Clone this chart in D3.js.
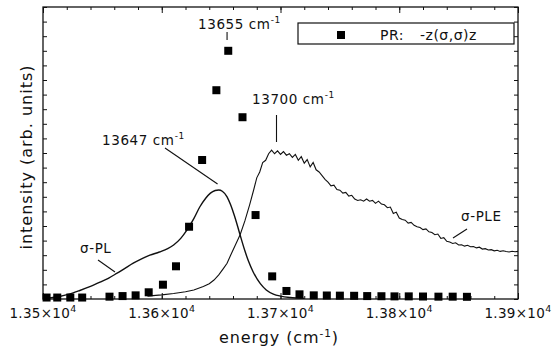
<!DOCTYPE html>
<html>
<head>
<meta charset="utf-8">
<script src="https://cdn.jsdelivr.net/npm/d3@7"></script>
<style>
  html, body { margin: 0; padding: 0; background: #fff; }
  svg { display: block; }
  text { font-family: "DejaVu Sans", sans-serif; fill: #111; }
</style>
</head>
<body>
<svg id="chart" width="560" height="349"></svg>
<script>
// ---------- data ----------
const prEnergy = [13503, 13512, 13523, 13533, 13556, 13567, 13578, 13589, 13601, 13612, 13623, 13634, 13646, 13656, 13668, 13679, 13693, 13705, 13716, 13728, 13739, 13750, 13762, 13773, 13785, 13796, 13808, 13820, 13833, 13845, 13857];
const prIntensity = [0.10, 0.10, 0.10, 0.10, 0.16, 0.20, 0.25, 0.46, 0.98, 2.24, 4.95, 9.52, 14.3, 17.0, 12.45, 5.75, 1.55, 0.55, 0.32, 0.25, 0.24, 0.23, 0.22, 0.20, 0.19, 0.18, 0.18, 0.17, 0.16, 0.16, 0.15];

const plEnergy = [13500, 13507, 13514, 13522, 13531, 13540, 13548, 13555, 13562, 13569, 13576, 13583, 13590, 13598, 13605, 13610, 13616, 13621, 13627, 13632, 13637, 13641, 13645, 13648, 13651, 13655, 13658, 13661, 13664, 13667, 13670, 13673, 13677, 13683, 13688, 13694, 13700, 13708, 13720];
const plIntensity = [0.05, 0.09, 0.17, 0.33, 0.58, 0.86, 1.15, 1.42, 1.75, 2.1, 2.45, 2.75, 3.0, 3.22, 3.45, 3.7, 4.15, 4.7, 5.5, 6.3, 6.9, 7.25, 7.43, 7.47, 7.38, 7.0, 6.45, 5.75, 4.95, 4.1, 3.3, 2.6, 1.85, 1.05, 0.62, 0.34, 0.2, 0.1, 0.04];

const pleEnergy = [13588, 13595, 13600, 13610, 13620, 13627, 13635, 13640, 13644, 13648, 13652, 13655, 13658, 13662, 13666, 13670, 13674, 13677.5,
  13680, 13682.5, 13685, 13687.5, 13690, 13692.5, 13695, 13697.5, 13700, 13702.5, 13705, 13707.5, 13710, 13712.5, 13715, 13717.5, 13720, 13722.5, 13725, 13727.5,
  13730, 13732.5, 13735, 13737.5, 13740, 13742.5, 13745, 13747.5, 13750, 13752.5, 13755, 13757.5, 13760, 13762.5, 13765, 13767.5, 13770, 13772.5, 13775, 13777.5,
  13780, 13782.5, 13785, 13787.5, 13790, 13792.5, 13795, 13797.5, 13800, 13802.5, 13805, 13807.5, 13810, 13812.5, 13815, 13817.5, 13820, 13822.5, 13825, 13827.5,
  13830, 13832.5, 13835, 13837.5, 13840, 13842.5, 13845, 13847.5, 13850, 13852.5, 13855, 13857.5, 13860, 13862.5, 13865, 13867.5, 13870, 13872.5, 13875, 13877.5,
  13880, 13882.5, 13885, 13887.5, 13890, 13892.5, 13895, 13897.5, 13900];
const pleIntensity = [0.2, 0.25, 0.28, 0.38, 0.5, 0.62, 0.85, 1.05, 1.3, 1.65, 2.1, 2.45, 3.0, 3.7, 4.4, 5.35, 6.45, 7.5,
  8.3, 8.7, 9.35, 9.5, 9.95, 10.2, 9.95, 10.15, 9.9, 10.1, 9.85, 9.95, 9.7, 9.9, 9.5, 9.75, 9.3, 9.55, 9.05, 9.35,
  8.85, 8.7, 8.45, 8.2, 8.0, 7.75, 7.8, 7.5, 7.45, 7.25, 7.3, 7.05, 7.1, 6.85, 6.75, 6.8, 6.7, 6.85, 6.7, 6.75,
  6.55, 6.7, 6.5, 6.45, 6.25, 6.3, 5.85, 5.95, 5.55, 5.45, 5.4, 5.2, 5.25, 5.05, 4.95, 4.9, 4.75, 4.8, 4.6, 4.55,
  4.4, 4.45, 4.15, 4.2, 3.95, 3.9, 3.8, 3.85, 3.7, 3.72, 3.62, 3.68, 3.58, 3.6, 3.5, 3.55, 3.42, 3.45, 3.36, 3.38,
  3.3, 3.34, 3.26, 3.3, 3.25, 3.22, 3.27, 3.24, 3.26];

const xMajorTicks = [13500, 13600, 13700, 13800, 13900];
const xTickMantissa = ["1.35", "1.36", "1.37", "1.38", "1.39"];
const xMinorTicks = d3.range(13500, 13901, 20);
const yTicks = d3.range(0, 21, 1);

// ---------- scales ----------
const svg = d3.select("#chart");
const x = d3.scaleLinear().domain([13500, 13900]).range([43, 518]);
const y = d3.scaleLinear().domain([0, 20]).range([299, 7]);

// ---------- axes (ticks inward) ----------
const axisStyle = g => { g.select(".domain").remove(); g.selectAll("line").attr("stroke", "#111").attr("stroke-width", 1); };
svg.append("g").attr("transform", "translate(0,299)")
  .call(d3.axisBottom(x).tickValues(xMinorTicks).tickSize(-3).tickFormat("")).call(axisStyle);
svg.append("g").attr("transform", "translate(0,299)")
  .call(d3.axisBottom(x).tickValues(xMajorTicks).tickSize(-6).tickFormat("")).call(axisStyle);
svg.append("g").attr("transform", "translate(0,7)")
  .call(d3.axisTop(x).tickValues(xMinorTicks).tickSize(-3).tickFormat("")).call(axisStyle);
svg.append("g").attr("transform", "translate(0,7)")
  .call(d3.axisTop(x).tickValues(xMajorTicks).tickSize(-6).tickFormat("")).call(axisStyle);
svg.append("g").attr("transform", "translate(43,0)")
  .call(d3.axisLeft(y).tickValues(yTicks).tickSize(-4).tickFormat("")).call(axisStyle);
svg.append("g").attr("transform", "translate(518,0)")
  .call(d3.axisRight(y).tickValues(yTicks).tickSize(-4).tickFormat("")).call(axisStyle);

// frame
svg.append("rect").attr("x", x(13500)).attr("y", y(20))
  .attr("width", x(13900) - x(13500)).attr("height", y(0) - y(20))
  .attr("fill", "none").attr("stroke", "#111").attr("stroke-width", 1.3);

// x tick labels
xMajorTicks.forEach((v, i) => {
  const t = svg.append("text").attr("x", x(v)).attr("y", 318)
    .attr("text-anchor", "middle").attr("font-size", 13.5).attr("letter-spacing", 0.3);
  t.append("tspan").text(xTickMantissa[i] + "×10");
  t.append("tspan").attr("dy", -6).attr("font-size", 9.5).text("4");
});

// axis titles
const xt = svg.append("text").attr("x", 279).attr("y", 343).attr("text-anchor", "middle")
  .attr("font-size", 16).attr("letter-spacing", 0.9);
xt.append("tspan").text("energy (cm");
xt.append("tspan").attr("dy", -6).attr("font-size", 10.5).text("-1");
xt.append("tspan").attr("dy", 6).text(")");

svg.append("text").attr("transform", "translate(32,157) rotate(-90)").attr("text-anchor", "middle")
  .attr("font-size", 16).attr("letter-spacing", 1).text("intensity (arb. units)");

// ---------- curves ----------
const plData = plEnergy.map((e, i) => [e, plIntensity[i]]);
const pleData = pleEnergy.map((e, i) => [e, pleIntensity[i]]);
svg.append("path").datum(plData)
  .attr("d", d3.line().x(d => x(d[0])).y(d => y(d[1])).curve(d3.curveMonotoneX))
  .attr("fill", "none").attr("stroke", "#111").attr("stroke-width", 1.4);
svg.append("path").datum(pleData)
  .attr("d", d3.line().x(d => x(d[0])).y(d => y(d[1])))
  .attr("fill", "none").attr("stroke", "#111").attr("stroke-width", 1.1);

// ---------- PR squares ----------
svg.append("g").selectAll("rect").data(prEnergy).join("rect")
  .attr("x", (d) => x(d) - 4).attr("y", (d, i) => y(prIntensity[i]) - 4)
  .attr("width", 8).attr("height", 8).attr("fill", "#000");

// ---------- legend ----------
svg.append("rect").attr("x", 298).attr("y", 23).attr("width", 216).attr("height", 21)
  .attr("fill", "#fff").attr("stroke", "#111").attr("stroke-width", 1.2);
svg.append("rect").attr("x", 337).attr("y", 31).attr("width", 8).attr("height", 8).attr("fill", "#000");
const lg = svg.append("text").attr("y", 40).attr("font-size", 14).attr("letter-spacing", 0.5);
lg.append("tspan").attr("x", 380).text("PR:");
lg.append("tspan").attr("x", 420).text("-z(σ,σ)z");

// ---------- annotations ----------
function label(xp, yp, main, sup) {
  const t = svg.append("text").attr("x", xp).attr("y", yp).attr("font-size", 13.5).attr("letter-spacing", 0.6);
  t.append("tspan").text(main);
  if (sup) t.append("tspan").attr("dy", -6).attr("font-size", 9).text(sup);
}
label(198, 29, "13655 cm", "-1");
label(102, 145, "13647 cm", "-1");
label(252, 104, "13700 cm", "-1");
label(80, 253, "σ-PL");
label(461, 221, "σ-PLE");

const lineStyle = s => s.attr("stroke", "#111").attr("stroke-width", 1.1);
svg.append("line").attr("x1", x(13655)).attr("y1", 32).attr("x2", x(13655)).attr("y2", 40).call(lineStyle);
svg.append("line").attr("x1", 165).attr("y1", 148).attr("x2", x(13647)).attr("y2", 184).call(lineStyle);
svg.append("line").attr("x1", x(13700) - 4).attr("y1", 115).attr("x2", x(13700) - 4).attr("y2", 142).call(lineStyle);
svg.append("line").attr("x1", 98).attr("y1", 260).attr("x2", 115).attr("y2", 272).call(lineStyle);
svg.append("line").attr("x1", 467).attr("y1", 229).attr("x2", 453).attr("y2", 238).call(lineStyle);
</script>
</body>
</html>
